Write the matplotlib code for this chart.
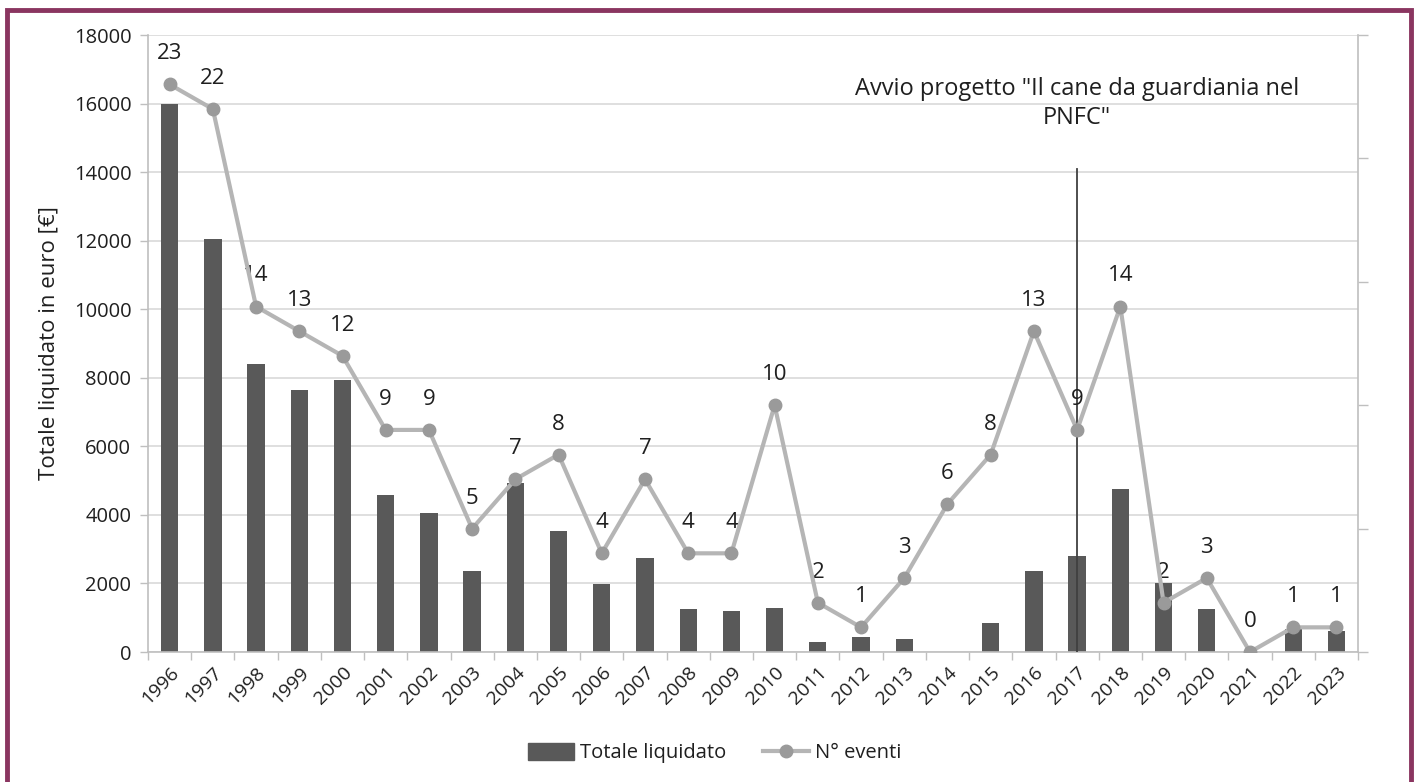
import matplotlib.pyplot as plt
import numpy as np
from matplotlib.lines import Line2D
from matplotlib.patches import Patch, Rectangle

plt.rcParams["font.family"] = ["Open Sans", "DejaVu Sans"]

years = [str(y) for y in range(1996, 2024)]
totale_liquidato = [
    16000, 12050, 8400, 7650, 7930, 4580, 4050, 2360, 4930, 3530,
    1980, 2740, 1250, 1200, 1280, 290, 440, 380, 0, 840,
    2360, 2800, 4750, 2010, 1250, 0, 680, 610,
]
n_eventi = [23, 22, 14, 13, 12, 9, 9, 5, 7, 8, 4, 7, 4, 4, 10, 2, 1, 3, 6, 8,
            13, 9, 14, 2, 3, 0, 1, 1]

project_year = "2017"
project_label = 'Avvio progetto "Il cane da guardiania nel\nPNFC"'
project_line_top = 14100

bar_color = "#595959"
line_color = "#b5b5b5"
marker_color = "#9a9a9a"
axis_gray = "#bfbfbf"
grid_gray = "#d9d9d9"
text_color = "#1f1f1f"

fig = plt.figure(figsize=(14.18, 7.82), dpi=100)
ax = fig.add_axes([0.1044, 0.1662, 0.8533, 0.789])
x = np.arange(len(years))

ax.bar(x, totale_liquidato, width=0.4, color=bar_color, zorder=2)
ax.set_xlim(-0.5, len(years) - 0.5)
ax.set_ylim(0, 18000)
ax.set_yticks(np.arange(0, 18001, 2000))
ax.tick_params(axis="y", labelsize=14.5, colors=axis_gray, labelcolor=text_color,
               length=6, width=1, pad=6)
ax.grid(axis="y", color=grid_gray, linewidth=1.2, zorder=0)
ax.set_axisbelow(True)

ax.set_xticks(x)
ax.set_xticklabels(years, rotation=45, ha="right", rotation_mode="anchor",
                   fontsize=14, color=text_color)
ax.tick_params(axis="x", which="major", length=0, pad=8)
ax.set_xticks(np.arange(-0.5, len(years), 1), minor=True)
ax.tick_params(axis="x", which="minor", length=6, color=axis_gray, width=1)

ax.set_ylabel("Totale liquidato in euro [€]", fontsize=16, color=text_color,
              labelpad=10)

for side in ["top", "right"]:
    ax.spines[side].set_visible(False)
for side in ["left", "bottom"]:
    ax.spines[side].set_color(axis_gray)
    ax.spines[side].set_linewidth(1.2)

# project start marker
px = years.index(project_year)
ax.plot([px, px], [0, project_line_top], color="#404040", linewidth=1.3, zorder=3)
ax.text(px, 16000, project_label, ha="center", va="center", fontsize=17,
        color=text_color, linespacing=1.3, zorder=4)

ax2 = ax.twinx()
ax2.set_ylim(0, 25)
ax2.set_yticks(np.arange(0, 26, 5))
ax2.tick_params(axis="y", labelright=False, length=7, colors=axis_gray, width=1)
for side in ["top", "left", "bottom"]:
    ax2.spines[side].set_visible(False)
ax2.spines["right"].set_color(axis_gray)
ax2.spines["right"].set_linewidth(1.2)

ax2.plot(x, n_eventi, color=line_color, linewidth=3, marker="o", markersize=9,
         markerfacecolor=marker_color, markeredgecolor=marker_color, zorder=5)
for xi, v in zip(x, n_eventi):
    ax2.annotate(str(v), (xi, v), xytext=(0, 22), textcoords="offset points",
                 ha="center", va="center", fontsize=16, color=text_color)

handles = [
    Patch(facecolor=bar_color, edgecolor=bar_color, label="Totale liquidato"),
    Line2D([], [], color=line_color, linewidth=3, marker="o", markersize=9,
           markerfacecolor=marker_color, markeredgecolor=marker_color,
           label="N° eventi"),
]
fig.legend(handles=handles, loc="center", bbox_to_anchor=(0.504, 0.037),
           ncol=2, frameon=False, fontsize=14.5, handlelength=2.3,
           handleheight=0.9, columnspacing=1.8, handletextpad=0.3,
           labelcolor=text_color)

# frame around the whole figure
fig.patches.append(Rectangle((7.5 / 1418, -0.02), 1 - 15 / 1418, 1.02 - 9.5 / 782,
                             transform=fig.transFigure, fill=False,
                             edgecolor="#8a3560", linewidth=3.5))

fig.savefig("out.png", dpi=100, facecolor="white")
